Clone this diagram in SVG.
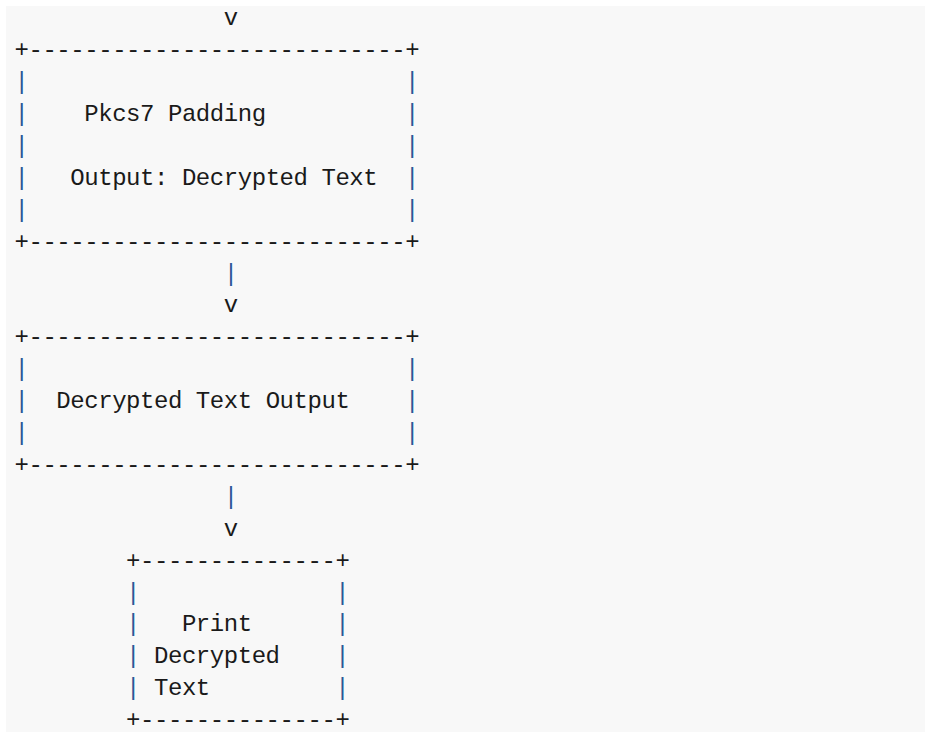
<svg xmlns="http://www.w3.org/2000/svg" width="925" height="732" viewBox="0 0 925 732">
  <style>
    .t { font-family: "Liberation Mono", "DejaVu Sans Mono", monospace; font-size: 24px; letter-spacing: -0.45px; fill: #1a1a1a; white-space: pre; }
    .b { fill: #2b5797; }
  </style>
  <rect x="0" y="0" width="925" height="732" fill="#ffffff"/>
  <rect x="6" y="6" width="919" height="726" fill="#f8f8f8"/>

  <!-- flow between the boxes -->
  <g id="connectors">
    <text class="t" x="223.75" y="25.3">v</text>
    <text class="t b" x="223.75" y="280.5">|</text>
    <text class="t" x="223.75" y="312.4">v</text>
    <text class="t b" x="223.75" y="503.8">|</text>
    <text class="t" x="223.75" y="535.7">v</text>
  </g>

  <!-- Pkcs7 padding step -->
  <g id="pkcs7-padding">
    <text class="t" x="14.5" y="57.2">+---------------------------+</text>
    <text class="t b" x="14.5" y="89.1">|</text><text class="t b" x="405.1" y="89.1">|</text>
    <text class="t b" x="14.5" y="121.0">|</text><text class="t b" x="405.1" y="121.0">|</text>
    <text class="t b" x="14.5" y="152.9">|</text><text class="t b" x="405.1" y="152.9">|</text>
    <text class="t b" x="14.5" y="184.8">|</text><text class="t b" x="405.1" y="184.8">|</text>
    <text class="t b" x="14.5" y="216.7">|</text><text class="t b" x="405.1" y="216.7">|</text>
    <text class="t" x="14.5" y="248.6">+---------------------------+</text>
    <text class="t" x="84.25" y="121.0">Pkcs7 Padding</text>
    <text class="t" x="70.3" y="184.8">Output: Decrypted Text</text>
  </g>

  <!-- decrypted text output -->
  <g id="decrypted-output">
    <text class="t" x="14.5" y="344.3">+---------------------------+</text>
    <text class="t b" x="14.5" y="376.2">|</text><text class="t b" x="405.1" y="376.2">|</text>
    <text class="t b" x="14.5" y="408.1">|</text><text class="t b" x="405.1" y="408.1">|</text>
    <text class="t b" x="14.5" y="440.0">|</text><text class="t b" x="405.1" y="440.0">|</text>
    <text class="t" x="14.5" y="471.9">+---------------------------+</text>
    <text class="t" x="56.35" y="408.1">Decrypted Text Output</text>
  </g>

  <!-- print step -->
  <g id="print-decrypted">
    <text class="t" x="126.1" y="567.6">+--------------+</text>
    <text class="t b" x="126.1" y="599.5">|</text><text class="t b" x="335.35" y="599.5">|</text>
    <text class="t b" x="126.1" y="631.4">|</text><text class="t b" x="335.35" y="631.4">|</text>
    <text class="t b" x="126.1" y="663.3">|</text><text class="t b" x="335.35" y="663.3">|</text>
    <text class="t b" x="126.1" y="695.2">|</text><text class="t b" x="335.35" y="695.2">|</text>
    <text class="t" x="126.1" y="727.1">+--------------+</text>
    <text class="t" x="181.9" y="631.4">Print</text>
    <text class="t" x="154.0" y="663.3">Decrypted</text>
    <text class="t" x="154.0" y="695.2">Text</text>
  </g>
</svg>
